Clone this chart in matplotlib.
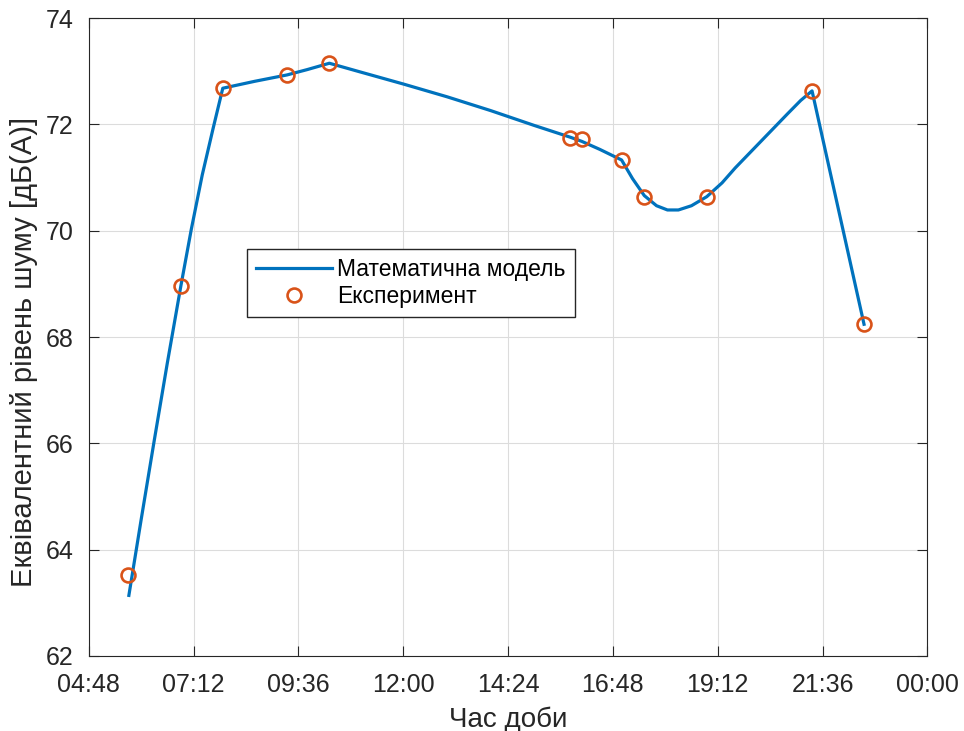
import matplotlib.pyplot as plt
import numpy as np

# години доби (десяткові) та рівень шуму
exp_t = [5.69, 6.91, 7.87, 9.34, 10.31, 15.82, 16.09, 17.00, 17.52, 18.95, 21.36, 22.55]
exp_L = [63.52, 68.96, 72.68, 72.93, 73.15, 71.74, 71.72, 71.33, 70.64, 70.64, 72.63, 68.24]

# точки кривої моделі
mod_t = [5.72, 6.00, 6.30, 6.60, 6.91, 7.15, 7.40, 7.65, 7.87, 8.60, 9.34, 9.80, 10.31,
         11.00, 12.00, 13.00, 14.00, 15.00, 15.82, 16.09, 16.50, 17.00, 17.25, 17.52,
         17.80, 18.05, 18.30, 18.60, 18.95, 19.30, 19.60, 20.00, 20.40, 20.80, 21.10, 21.36, 22.55]
mod_L = [63.14, 64.56, 66.05, 67.51, 68.96, 70.03, 71.05, 71.93, 72.68, 72.81, 72.93, 73.03, 73.15,
         72.99, 72.76, 72.52, 72.26, 71.98, 71.76, 71.68, 71.53, 71.33, 70.98, 70.66,
         70.47, 70.39, 70.39, 70.47, 70.64, 70.90, 71.18, 71.52, 71.86, 72.20, 72.45, 72.63, 68.24]

xticks = np.arange(4.8, 24.01, 2.4)
xlabels = ['04:48', '07:12', '09:36', '12:00', '14:24', '16:48', '19:12', '21:36', '00:00']

plt.rcParams['font.family'] = ['Liberation Sans', 'DejaVu Sans']

fig = plt.figure(figsize=(9.64, 7.31), dpi=100)
ax = fig.add_axes([0.092, 0.1026, 0.870, 0.8727])

ax.plot(mod_t, mod_L, color='#0072BD', lw=2.3, label='Математична модель')
ax.plot(exp_t, exp_L, 'o', mfc='none', mec='#D95319', mew=1.9, ms=10, label='Експеримент')

ax.set_xlim(4.8, 24)
ax.set_ylim(62, 74)
ax.set_xticks(xticks)
ax.set_xticklabels(xlabels)
ax.set_yticks(range(62, 75, 2))
ax.tick_params(direction='in', top=True, right=True, labelsize=18, colors='#262626', length=7)
ax.tick_params(axis='x', pad=12)
ax.tick_params(axis='y', pad=11)
for s in ax.spines.values():
    s.set_color('#262626')
ax.grid(color='#dcdcdc', lw=0.8)
ax.set_axisbelow(True)

ax.set_xlabel('Час доби', fontsize=20, color='#262626', labelpad=7)
ax.set_ylabel('Еквівалентний рівень шуму [дБ(А)]', fontsize=21, color='#262626')
ax.yaxis.set_label_coords(-0.061, 0.476)

leg = ax.legend(loc='upper left', bbox_to_anchor=(0.1885, 0.638), fontsize=16.5,
                fancybox=False, edgecolor='#262626', framealpha=1,
                handlelength=3.3, handletextpad=0.25, labelspacing=0.15,
                borderpad=0.4, borderaxespad=0)
leg.get_frame().set_linewidth(1.0)

fig.savefig('out.png', dpi=100)
